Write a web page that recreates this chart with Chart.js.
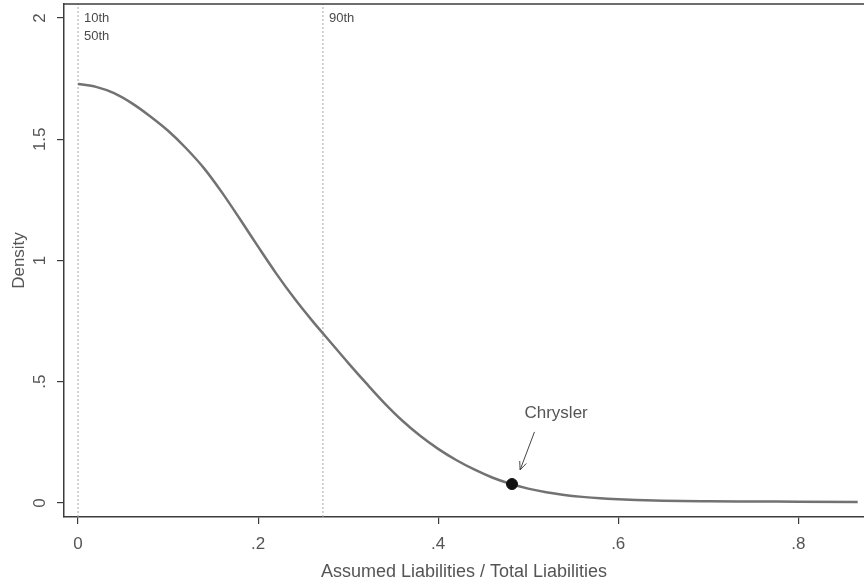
<!DOCTYPE html>
<html>
<head>
<meta charset="utf-8">
<script src="https://cdn.jsdelivr.net/npm/chart.js@4/dist/chart.umd.min.js"></script>
<style>
  html, body { margin: 0; padding: 0; background: #fff; overflow: hidden; }
  canvas { display: block; }
</style>
</head>
<body>
<canvas id="density" width="864" height="586"></canvas>
<script>
// density curve
let shareX = [0, 0.02, 0.04, 0.06, 0.08, 0.10, 0.12, 0.14, 0.16, 0.18, 0.20, 0.22, 0.24, 0.26, 0.28, 0.30,
  0.32, 0.34, 0.36, 0.38, 0.40, 0.42, 0.44, 0.46, 0.48, 0.50, 0.52, 0.54, 0.56, 0.58, 0.60, 0.62, 0.65,
  0.70, 0.75, 0.80, 0.866];
let densityY = [1.728, 1.716, 1.690, 1.648, 1.595, 1.535, 1.463, 1.380, 1.280, 1.170, 1.057, 0.947, 0.845, 0.752,
  0.665, 0.578, 0.494, 0.413, 0.340, 0.277, 0.223, 0.177, 0.138, 0.105, 0.079, 0.059, 0.044, 0.033, 0.025,
  0.019, 0.015, 0.012, 0.009, 0.007, 0.006, 0.005, 0.004];

// percentile lines
let pctLabels = [['10th', '50th'], ['90th']];
let pctX = [0, 0.272];

// Chrysler
let chryslerX = 0.482;
let chryslerY = 0.078;
let chryslerText = 'Chrysler';
let chryslerTextAt = [0.531, 0.371];
let arrowFrom = [0.507, 0.293];
let arrowTo = [0.491, 0.136];

// axes
let xTicks = [0, 0.2, 0.4, 0.6, 0.8];
let yTicks = [0, 0.5, 1, 1.5, 2];
let xRange = [-0.0156, 0.873];
let yRange = [-0.058, 2.058];
let xTitle = 'Assumed Liabilities / Total Liabilities';
let yTitle = 'Density';

const FONT = '"Liberation Sans", Arial, sans-serif';
const AXIS = '#3c3c3c';
const TEXT = '#555';

// drop the leading zero like Stata does: .2 .5
function fmt(v) {
  let s = String(v);
  return s.startsWith('0.') ? s.slice(1) : s;
}

let curve = shareX.map((x, i) => ({ x: x, y: densityY[i] }));

let pctSets = pctX.map(x => ({
  type: 'line',
  data: [{ x: x, y: yRange[0] }, { x: x, y: yRange[1] }],
  borderColor: '#a8a8a8',
  borderWidth: 1,
  borderDash: [2, 2],
  pointRadius: 0,
  order: 3
}));

// frame, rotated y labels and the annotations
const extras = {
  id: 'extras',
  afterDraw(chart) {
    const c = chart.ctx;
    const xs = chart.scales.x, ys = chart.scales.y;
    const a = chart.chartArea;
    c.save();
    // top frame line
    c.strokeStyle = AXIS;
    c.lineWidth = 1.5;
    c.beginPath();
    c.moveTo(a.left, a.top);
    c.lineTo(a.right, a.top);
    c.stroke();

    // y tick labels, turned like Stata
    c.fillStyle = TEXT;
    c.font = '17px ' + FONT;
    c.textAlign = 'center';
    c.textBaseline = 'middle';
    yTicks.forEach(v => {
      c.save();
      c.translate(a.left - 24, ys.getPixelForValue(v));
      c.rotate(-Math.PI / 2);
      c.fillText(fmt(v), 0, 0);
      c.restore();
    });

    // percentile labels
    c.font = '13px ' + FONT;
    c.fillStyle = '#4a4a4a';
    c.textAlign = 'left';
    c.textBaseline = 'top';
    pctX.forEach((x, i) => {
      pctLabels[i].forEach((t, j) => {
        c.fillText(t, xs.getPixelForValue(x) + 6, a.top + 8 + j * 18);
      });
    });

    // Chrysler label and arrow
    c.font = '17px ' + FONT;
    c.fillStyle = TEXT;
    c.textAlign = 'center';
    c.textBaseline = 'middle';
    c.fillText(chryslerText, xs.getPixelForValue(chryslerTextAt[0]), ys.getPixelForValue(chryslerTextAt[1]));
    let x1 = xs.getPixelForValue(arrowFrom[0]), y1 = ys.getPixelForValue(arrowFrom[1]);
    let x2 = xs.getPixelForValue(arrowTo[0]), y2 = ys.getPixelForValue(arrowTo[1]);
    c.strokeStyle = '#444';
    c.lineWidth = 1;
    c.beginPath();
    c.moveTo(x1, y1);
    c.lineTo(x2, y2);
    let ang = Math.atan2(y2 - y1, x2 - x1);
    c.moveTo(x2, y2);
    c.lineTo(x2 - 9 * Math.cos(ang - 0.4), y2 - 9 * Math.sin(ang - 0.4));
    c.moveTo(x2, y2);
    c.lineTo(x2 - 9 * Math.cos(ang + 0.4), y2 - 9 * Math.sin(ang + 0.4));
    c.stroke();
    c.restore();
  }
};

new Chart(document.getElementById('density'), {
  type: 'line',
  data: {
    datasets: [
      {
        data: curve,
        borderColor: '#727272',
        borderWidth: 2.5,
        pointRadius: 0,
        cubicInterpolationMode: 'monotone',
        order: 2
      },
      {
        type: 'scatter',
        data: [{ x: chryslerX, y: chryslerY }],
        backgroundColor: '#111',
        borderColor: '#111',
        pointRadius: 5.5,
        order: 1
      },
      ...pctSets
    ]
  },
  options: {
    responsive: false,
    animation: false,
    layout: { autoPadding: false, padding: { top: 4, right: 0, left: 0, bottom: 0 } },
    plugins: {
      legend: { display: false },
      tooltip: { enabled: false }
    },
    scales: {
      x: {
        type: 'linear',
        min: xRange[0],
        max: xRange[1],
        afterBuildTicks: s => { s.ticks = xTicks.map(v => ({ value: v })); },
        afterFit: s => { s.height = 69; s.paddingLeft = 0; s.paddingRight = 0; },
        ticks: {
          callback: v => fmt(v),
          color: TEXT,
          font: { family: FONT, size: 17 },
          padding: 10,
          maxRotation: 0
        },
        grid: { display: true, drawOnChartArea: false, drawTicks: true, tickLength: 7, color: AXIS, lineWidth: 1.2 },
        border: { display: true, color: AXIS, width: 1.5 },
        title: {
          display: true,
          text: xTitle,
          color: TEXT,
          font: { family: FONT, size: 18 },
          padding: { top: 0, bottom: 3 }
        }
      },
      y: {
        min: yRange[0],
        max: yRange[1],
        afterBuildTicks: s => { s.ticks = yTicks.map(v => ({ value: v })); },
        afterFit: s => { s.width = 64; },
        ticks: { display: false },
        grid: { display: true, drawOnChartArea: false, drawTicks: true, tickLength: 7, color: AXIS, lineWidth: 1.2 },
        border: { display: true, color: AXIS, width: 1.5 },
        title: {
          display: true,
          text: yTitle,
          color: TEXT,
          font: { family: FONT, size: 17 },
          padding: { top: 9, bottom: 0 }
        }
      }
    }
  },
  plugins: [extras]
});
</script>
</body>
</html>
